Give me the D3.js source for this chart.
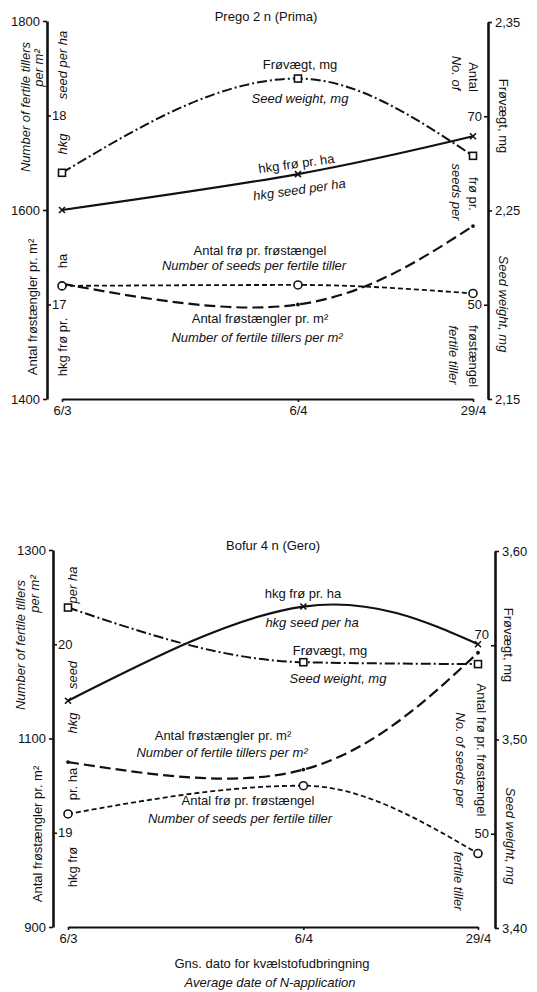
<!DOCTYPE html>
<html>
<head>
<meta charset="utf-8">
<script src="https://cdn.jsdelivr.net/npm/d3@7"></script>
<style>
  html, body { margin: 0; padding: 0; background: #fff; }
  svg { display: block; }
  text { font-family: "Liberation Sans", Arial, Helvetica, sans-serif; font-size: 13px; fill: #111; }
  .it { font-style: italic; }
</style>
</head>
<body>
<svg id="chart" width="537" height="992"></svg>
<script>
// ---------------- DATA ----------------
const dateLabels = ["6/3", "6/4", "29/4"];
const dateValues = [new Date(1990, 2, 6), new Date(1990, 3, 6), new Date(1990, 3, 29)];

// Prego 2 n (Prima)
const pregoHkg = [17.50, 17.69, 17.89];            // hkg frø pr. ha
const pregoSeedWeight = [2.270, 2.320, 2.279];     // Frøvægt, mg
const pregoSeedsPerTiller = [52.0, 52.1, 51.2];    // Antal frø pr. frøstængel
const pregoTillers = [1522, 1500, 1583];           // Antal frøstængler pr. m2

// Bofur 4 n (Gero)
const bofurHkg = [19.70, 20.20, 20.00];
const bofurSeedWeight = [3.570, 3.541, 3.540];
const bofurSeedsPerTiller = [52.1, 55.1, 47.9];
const bofurTillers = [1075, 1067, 1191];

// tick values
const pregoTillerTicks = [1400, 1600, 1800];
const pregoHkgTicks = [17, 18];
const pregoWeightTicks = [2.15, 2.25, 2.35];
const pregoSeedTicks = [50, 70];
const bofurTillerTicks = [900, 1100, 1300];
const bofurHkgTicks = [19, 20];
const bofurWeightTicks = [3.40, 3.50, 3.60];
const bofurSeedTicks = [50, 70];

// ---------------- DRAWING ----------------
const svg = d3.select("#chart");
const comma2 = d => d.toFixed(2).replace(".", ",");

function txt(g, s, x, y, opts = {}) {
  const t = g.append("text").attr("x", x).attr("y", y)
    .attr("text-anchor", opts.anchor || "middle").text(s);
  if (opts.italic) t.attr("class", "it");
  if (opts.rotate) t.attr("transform", `rotate(${opts.rotate},${x},${y})`);
  return t;
}
// vertical text, cx = visual centre of glyphs, cy = centre of the run
function vtext(g, s, cx, cy, angle, italic) {
  const ax = angle < 0 ? cx + 4.5 : cx - 4.5;
  g.append("text").attr("text-anchor", "middle")
    .attr("transform", `translate(${ax},${cy}) rotate(${angle})`)
    .attr("class", italic ? "it" : null).text(s);
}

function panel(cfg) {
  const g = svg.append("g");
  const x = d3.scaleTime().domain([dateValues[0], dateValues[2]]).range([cfg.x0, cfg.x1]);
  const yL = d3.scaleLinear().domain(cfg.tillerDomain).range([cfg.yBot, cfg.yTop]);
  const yH = d3.scaleLinear().domain(cfg.hkgDomain).range([cfg.yBot, cfg.yTop]);
  const yR = d3.scaleLinear().domain(cfg.weightDomain).range([cfg.yBotR, cfg.yTopR]);
  const yS = d3.scaleLinear().domain([40, 80]).range([cfg.yBotR, cfg.yTopR]);

  // axes
  const styleAxis = (sel, w) => {
    sel.select(".domain").attr("stroke", "#111").attr("stroke-width", w);
    sel.selectAll(".tick line").attr("stroke", "#111").attr("stroke-width", 1.6);
    sel.selectAll(".tick text").style("font-size", "13px").attr("fill", "#111")
      .style("font-family", '"Liberation Sans", Arial, sans-serif');
  };
  g.append("g").attr("transform", `translate(${cfg.axL},0)`)
    .call(d3.axisLeft(yL).tickValues(cfg.tillerTicks).tickSize(4).tickSizeOuter(0).tickPadding(3).tickFormat(d3.format("d")))
    .call(s => styleAxis(s, 2.6));
  g.append("g").attr("transform", `translate(${cfg.axL},0)`)
    .call(d3.axisRight(yH).tickValues(cfg.hkgTicks).tickSize(4).tickSizeOuter(0).tickPadding(1).tickFormat(d3.format("d")))
    .call(s => { styleAxis(s, 0); s.select(".domain").remove(); });
  g.append("g").attr("transform", `translate(${cfg.axR},0)`)
    .call(d3.axisRight(yR).tickValues(cfg.weightTicks).tickSize(4).tickSizeOuter(0).tickPadding(3).tickFormat(comma2))
    .call(s => styleAxis(s, 2.6));
  const sAx = g.append("g").attr("transform", `translate(${cfg.axR},0)`)
    .call(d3.axisLeft(yS).tickValues(cfg.seedTicks).tickSize(4).tickSizeOuter(0).tickPadding(2).tickFormat(d3.format("d")))
    .call(s => { styleAxis(s, 0); s.select(".domain").remove(); });
  if (cfg.seed70dy) sAx.selectAll(".tick text").filter(d => d === 70).attr("dy", cfg.seed70dy);
  g.append("g").attr("transform", `translate(0,${cfg.yBot})`)
    .call(d3.axisBottom(x).tickValues(dateValues).tickSize(3).tickSizeOuter(0).tickPadding(4)
      .tickFormat((d, i) => dateLabels[i]))
    .call(s => styleAxis(s, 2));

  // series
  const mk = (vals, y) => vals.map((v, i) => [x(dateValues[i]), y(v)]);
  const natural = d3.line().curve(d3.curveNatural);
  const mono = d3.line().curve(d3.curveMonotoneX);
  const series = [
    { pts: mk(cfg.tillers, yL), dash: "11,5", w: 2.2, m: "dot", line: natural },
    { pts: mk(cfg.seeds, yS), dash: "5,3", w: 1.8, m: "circle", line: mono },
    { pts: mk(cfg.weight, yR), dash: "10,3,2,3", w: 2, m: "square", line: mono },
    { pts: mk(cfg.hkg, yH), dash: null, w: 2.2, m: "x", line: natural }
  ];
  series.forEach(s => {
    g.append("path").attr("d", s.line(s.pts)).attr("fill", "none").attr("stroke", "#111")
      .attr("stroke-width", s.w).attr("stroke-dasharray", s.dash);
  });
  series.forEach(s => {
    s.pts.forEach(([px, py]) => {
      if (s.m === "dot") g.append("circle").attr("cx", px).attr("cy", py).attr("r", 1.9).attr("fill", "#111");
      if (s.m === "circle") g.append("circle").attr("cx", px).attr("cy", py).attr("r", 4)
        .attr("fill", "#fff").attr("stroke", "#111").attr("stroke-width", 1.6);
      if (s.m === "square") g.append("rect").attr("x", px - 3.5).attr("y", py - 3.5).attr("width", 7).attr("height", 7)
        .attr("fill", "#fff").attr("stroke", "#111").attr("stroke-width", 1.6);
      if (s.m === "x") g.append("path").attr("d", `M${px - 3},${py - 3}L${px + 3},${py + 3}M${px - 3},${py + 3}L${px + 3},${py - 3}`)
        .attr("stroke", "#111").attr("stroke-width", 1.6);
    });
  });

  // labels
  txt(g, cfg.title, cfg.titleX, cfg.titleY);
  cfg.hlabels.forEach(l => txt(g, l[0], l[1], l[2], { italic: l[3], rotate: l[4] }));
  cfg.vlabels.forEach(l => vtext(g, l[0], l[1], l[2], l[3], l[4]));
}

panel({
  title: "Prego 2 n (Prima)", titleX: 266, titleY: 21,
  x0: 62, x1: 473, axL: 47, axR: 488,
  yTop: 21, yBot: 399, yTopR: 22, yBotR: 399,
  tillerDomain: [1400, 1800], hkgDomain: [16.5, 18.5], weightDomain: [2.15, 2.35],
  tillerTicks: pregoTillerTicks, hkgTicks: pregoHkgTicks, weightTicks: pregoWeightTicks, seedTicks: pregoSeedTicks,
  tillers: pregoTillers, seeds: pregoSeedsPerTiller, weight: pregoSeedWeight, hkg: pregoHkg,
  hlabels: [
    ["Frøvægt, mg", 300, 69, false],
    ["Seed weight, mg", 300, 103, true],
    ["hkg frø pr. ha", 297, 168, false, -8],
    ["hkg seed per ha", 300, 194, true, -8],
    ["Antal frø pr. frøstængel", 260, 255, false],
    ["Number of seeds per fertile tiller", 254, 270, true],
    ["Antal frøstængler pr. m²", 260, 323, false],
    ["Number of fertile tillers per m²", 257, 342, true]
  ],
  vlabels: [
    ["Number of fertile tillers", 25, 107, -90, true],
    ["per m²", 38, 68, -90, true],
    ["Antal frøstængler pr. m²", 32, 307, -90, false],
    ["seed per ha", 62, 65, -90, true],
    ["hkg", 62, 144, -90, true],
    ["ha", 62, 261, -90, false],
    ["hkg frø pr.", 62, 347, -90, false],
    ["Antal", 473, 77, 90, false],
    ["No. of", 456, 73, 90, true],
    ["frø pr.", 473, 194, 90, false],
    ["seeds per", 456, 192, 90, true],
    ["frøstængel", 473, 356, 90, false],
    ["fertile tiller", 453, 355, 90, true],
    ["Frøvægt, mg", 503, 116, 90, false],
    ["Seed weight, mg", 503, 304, 90, true]
  ]
});

panel({
  title: "Bofur 4 n (Gero)", titleX: 273, titleY: 550,
  x0: 68, x1: 478, axL: 53, axR: 495,
  yTop: 550, yBot: 927, yTopR: 551, yBotR: 928,
  tillerDomain: [900, 1300], hkgDomain: [18.5, 20.5], weightDomain: [3.40, 3.60],
  tillerTicks: bofurTillerTicks, hkgTicks: bofurHkgTicks, weightTicks: bofurWeightTicks, seedTicks: bofurSeedTicks,
  tillers: bofurTillers, seeds: bofurSeedsPerTiller, weight: bofurSeedWeight, hkg: bofurHkg,
  seed70dy: "-0.55em",
  hlabels: [
    ["hkg frø pr. ha", 303, 598, false],
    ["hkg seed per ha", 312, 627, true],
    ["Frøvægt, mg", 330, 655, false],
    ["Seed weight, mg", 338, 683, true],
    ["Antal frøstængler pr. m²", 223, 740, false],
    ["Number of fertile tillers per m²", 222, 757, true],
    ["Antal frø pr. frøstængel", 248, 805, false],
    ["Number of seeds per  fertile tiller", 240, 823, true],
    ["Gns. dato for kvælstofudbringning", 272, 968, false],
    ["Average date of N-application", 270, 987, true]
  ],
  vlabels: [
    ["Number of fertile tillers", 20, 645, -90, true],
    ["per m²", 34, 594, -90, true],
    ["Antal frøstængler pr. m²", 37, 834, -90, false],
    ["per ha", 72, 585, -90, true],
    ["seed", 72, 675, -90, true],
    ["hkg", 72, 723, -90, true],
    ["pr. ha", 72, 784, -90, false],
    ["hkg frø", 72, 867, -90, false],
    ["Antal frø pr. frøstængel", 481, 750, 90, false],
    ["No. of seeds per", 460, 760, 90, true],
    ["fertile tiller", 458, 881, 90, true],
    ["Frøvægt, mg", 508, 645, 90, false],
    ["Seed weight, mg", 510, 836, 90, true]
  ]
});
</script>
</body>
</html>
